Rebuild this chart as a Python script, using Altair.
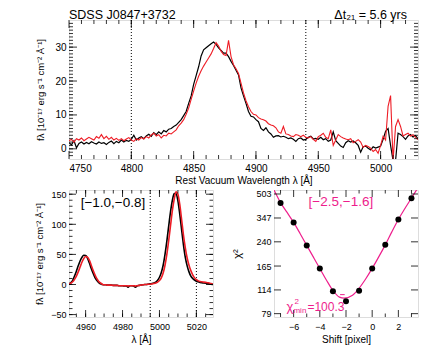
import altair as alt
import pandas as pd

# ---------------- data ----------------
wave_top = list(range(4750, 5031, 2))
flux_black_top = [
    1.8, 1.2, 2.4, 0.3, 1.6, 2.0, 1.4, 1.9, 1.5, 2.1,
    1.7, 1.4, 2.0, 1.6, 1.8, 1.3, 1.9, 2.3, 1.5, 2.2,
    1.8, 2.6, 2.0, 2.5, 2.2, 2.8, 4.0, 2.6, 3.2, 3.6,
    3.0, 3.8, 4.3, 3.7, 4.8, 4.2, 5.0, 4.4, 5.4, 5.0,
    5.8, 6.0, 6.6, 7.0, 7.8, 8.6, 9.8, 11.0, 13.4, 15.6,
    19.0, 21.6, 24.2, 27.4, 29.2, 29.8, 30.4, 31.0, 31.5, 30.8,
    29.8, 29.0, 28.2, 28.2, 27.2, 25.8, 24.6, 23.2, 21.8, 18.0,
    15.6, 13.4, 11.0, 9.6, 9.4, 8.6, 8.0, 6.0, 5.4, 6.2,
    5.0, 4.4, 3.4, 3.8, 3.9, 3.5, 3.7, 3.4, 3.0, 3.2,
    2.8, 2.2, 3.0, 3.2, 2.6, 2.8, 3.4, 3.7, 2.9, 3.1,
    2.8, 3.4, 2.7, 3.0, 2.2, 2.6, 5.0, 2.4, 1.6, 0.8,
    0.4, 1.8, 2.4, 2.0, 2.3, 1.8, 1.0, -1.0, 0.6, 0.8,
    0.2, -0.3, 0.6, 0.2, 0.5, 0.8, 2.8, 5.2, 6.0, 1.0,
    -3.5, -3.5, 4.6, 4.2, 3.6, 2.8, 3.8, 4.2, 3.5, 3.9,
    3.0,
]
flux_red_top = [
    2.4, 2.8, 2.0, 3.0, 2.6, 3.2, 2.4, 2.9, 3.4, 3.0,
    2.6, 3.6, 3.1, 4.2, 3.0, 3.7, 2.8, 3.4, 2.6, 3.1,
    2.5, 3.0, 2.4, 2.9, 3.3, 2.6, 2.2, 3.0, 2.6, 3.3,
    2.9, 3.6, 3.2, 4.1, 4.6, 3.8, 4.2, 3.2, 4.0, 3.8,
    4.6, 4.4, 5.0, 5.6, 6.8, 7.6, 8.6, 10.2, 12.0, 14.6,
    17.0, 19.4, 21.4, 23.0, 24.4, 25.6, 26.8, 28.0, 29.6, 31.3,
    30.3, 28.8, 27.8, 27.5, 32.0, 27.2, 24.8, 23.6, 22.2, 19.4,
    16.5, 14.2, 12.4, 11.0, 10.2, 10.0, 9.2, 8.8, 8.6, 8.2,
    7.4, 7.0, 6.8, 6.2, 5.0, 4.6, 6.6, 4.4, 4.2, 3.8,
    3.6, 4.2, 4.0, 3.6, 4.0, 3.4, 3.2, 3.6, 2.8, 2.2,
    3.6, 4.0, 4.6, 3.4, 3.0, 5.6, 1.0, 2.6, 4.2, 3.6,
    3.2, 2.9, 2.7, 3.0, 1.8, 2.2, 2.7, 2.0, 0.4, 1.0,
    0.7, 0.2, -0.8, -0.2, -1.3, 1.0, 3.7, 2.6, 12.5, 15.7,
    -3.5, 6.6, 8.6, 6.6, 3.8, 4.2, 4.6, 3.8, 4.2, 3.4,
    2.7,
]
top_vlines = [4800, 4940]

wave_oiii = list(range(4951, 5030))
flux_black_oiii = [
    1.0, 3.0, 7.0, 14.0, 22.0, 31.0, 39.0, 45.0, 48.5, 48.0,
    44.0, 36.0, 27.0, 19.0, 12.0, 7.0, 3.5, 1.0, 0.0, -0.5,
    -0.5, -1.0, -1.0, -1.0, -1.5, -1.5, -1.5, -2.0, -2.0, -2.0,
    -2.5, -2.0, -4.5, -2.0, -2.0, -2.5, -4.5, -2.0, -1.5, -1.0,
    -0.5, 0.0, 0.0, 0.5, 1.0, 1.5, 2.5, 4.0, 7.0, 12.0,
    20.0, 32.0, 50.0, 72.0, 97.0, 121.0, 140.0, 151.0, 151.0, 139.0,
    117.0, 91.0, 66.0, 45.0, 31.0, 21.0, 14.0, 10.0, 7.5, 5.5,
    4.5, 3.5, 3.0, 2.5, 2.0, 1.5, 1.0, 0.5, 0.0,
]
flux_red_oiii = [
    0.5, 2.0, 4.5, 8.5, 14.0, 21.0, 29.0, 37.0, 43.0, 46.5,
    45.5, 40.5, 32.5, 24.0, 16.5, 10.0, 5.5, 2.5, 0.5, -0.5,
    -0.5, -1.0, -1.0, -1.0, -1.5, -1.5, -1.5, -2.0, -2.0, -2.0,
    -2.0, -2.0, -2.5, -2.0, -2.0, -2.0, -2.5, -2.0, -1.5, -1.0,
    -0.5, 0.0, 0.0, 0.5, 0.5, 1.0, 1.5, 2.5, 4.0, 6.5,
    11.0, 19.0, 32.0, 50.0, 73.0, 98.0, 123.0, 142.0, 154.0, 150.0,
    133.0, 108.0, 82.0, 61.0, 44.0, 32.0, 23.0, 16.0, 11.0, 8.0,
    6.0, 5.0, 4.5, 4.0, 3.5, 3.0, 2.5, 1.5, 0.5,
]
oiii_vlines = [4995, 5020]

shift_pts = [-7, -6, -5, -4, -3, -2, -1, 0, 1, 2, 3]
chi2_pts = [438, 324, 227, 159, 111.5, 95.7, 112.7, 159, 229, 339, 471]
shift_curve = [-7.5, -7.0, -6.5, -6.0, -5.5, -5.0, -4.5, -4.0, -3.5, -3.0, -2.5,
               -2.15, -1.5, -1.0, -0.5, 0.0, 0.5, 1.0, 1.5, 2.0, 2.5, 3.0, 3.5]
chi2_curve = [535, 440, 378, 324, 272, 227, 190, 159, 133, 113, 102,
              100.3, 105, 117, 135, 159, 190, 229, 280, 339, 402, 472, 555]
chi2_ticks = [79, 114, 165, 240, 347, 503]
min_bar_x = [-2.45]
min_bar_x2 = [-2.1]
min_bar_y = [106]

# ---------------- style ----------------
RED = "#EE1C25"
MAG = "#EE1E8C"
FONT = "Liberation Sans"

TW, TH = 349, 139
BW, BH = 144, 127


def inward_ticks(xmaj, xmin, ymaj, ymin, X, Y, W, H, lmaj, lmin):
    layers = []
    for vals, ln in ((xmaj, lmaj), (xmin, lmin)):
        if not vals:
            continue
        d = pd.DataFrame({"x": vals})
        layers.append(alt.Chart(d).mark_rule(color="black", strokeWidth=0.8).encode(
            x=X, y=alt.value(H), y2=alt.value(H - ln)))
        layers.append(alt.Chart(d).mark_rule(color="black", strokeWidth=0.8).encode(
            x=X, y=alt.value(0), y2=alt.value(ln)))
    for vals, ln in ((ymaj, lmaj), (ymin, lmin)):
        if not vals:
            continue
        d = pd.DataFrame({"y": vals})
        layers.append(alt.Chart(d).mark_rule(color="black", strokeWidth=0.8).encode(
            y=Y, x=alt.value(0), x2=alt.value(ln)))
        layers.append(alt.Chart(d).mark_rule(color="black", strokeWidth=0.8).encode(
            y=Y, x=alt.value(W), x2=alt.value(W - ln)))
    return layers


axis_common = dict(ticks=False, domain=False, grid=False, labelFont=FONT,
                   titleFont=FONT, labelColor="black", titleColor="black",
                   titleFontWeight="normal", format="d")

# ---------------- top panel ----------------
Xt = alt.X("x:Q", scale=alt.Scale(domain=[4750, 5030], nice=False, zero=False),
           axis=alt.Axis(values=[4750, 4800, 4850, 4900, 4950, 5000],
                         title="Rest Vacuum Wavelength λ [Å]", labelFontSize=10,
                         titleFontSize=10, labelPadding=4, titlePadding=2, **axis_common))
Yt = alt.Y("y:Q", scale=alt.Scale(domain=[-3, 38], nice=False, zero=False),
           axis=alt.Axis(values=[0, 10, 20, 30], title="fλ [10⁻¹⁷ erg s⁻¹ cm⁻² Å⁻¹]",
                         labelFontSize=10, titleFontSize=9.5, labelPadding=3,
                         titlePadding=9, **axis_common))

df_tb = pd.DataFrame({"x": wave_top, "y": flux_black_top})
df_tr = pd.DataFrame({"x": wave_top, "y": flux_red_top})
df_tv = pd.DataFrame({"x": top_vlines})

top_layers = [
    alt.Chart(df_tv).mark_rule(color="black", strokeDash=[1, 2], strokeWidth=1).encode(x=Xt),
    alt.Chart(df_tb).mark_line(color="black", strokeWidth=1.2, clip=True).encode(x=Xt, y=Yt),
    alt.Chart(df_tr).mark_line(color=RED, strokeWidth=1.1, clip=True).encode(x=Xt, y=Yt),
]
top_layers += inward_ticks([4750, 4800, 4850, 4900, 4950, 5000],
                           list(range(4760, 5030, 10)),
                           [0, 10, 20, 30], list(range(-2, 38, 1)),
                           Xt, Yt, TW, TH, 8, 4)
hdr = pd.DataFrame({"a": [1]})
top_layers.append(alt.Chart(hdr).mark_text(text="SDSS J0847+3732", font=FONT, fontSize=12.5,
                                           align="left", baseline="alphabetic").encode(
    x=alt.value(0), y=alt.value(-1.5)))
top_layers.append(alt.Chart(hdr).mark_text(text="Δt₂₁ = 5.6 yrs", font=FONT, fontSize=12.5,
                                           align="right", baseline="alphabetic").encode(
    x=alt.value(338), y=alt.value(-1.5)))
top = alt.layer(*top_layers).properties(width=TW, height=TH)

# ---------------- bottom-left panel ----------------
Xl = alt.X("x:Q", scale=alt.Scale(domain=[4951, 5029], nice=False, zero=False),
           axis=alt.Axis(values=[4960, 4980, 5000, 5020], title="λ [Å]",
                         labelFontSize=9, titleFontSize=10, labelPadding=5,
                         titlePadding=3, **axis_common))
Yl = alt.Y("y:Q", scale=alt.Scale(domain=[-54, 157], nice=False, zero=False),
           axis=alt.Axis(values=[-50, 0, 50, 100, 150], title="fλ [10⁻¹⁷ erg s⁻¹ cm⁻² Å⁻¹]",
                         labelFontSize=9, titleFontSize=9.5, labelPadding=3,
                         titlePadding=6, **axis_common))
df_lb = pd.DataFrame({"x": wave_oiii, "y": flux_black_oiii})
df_lr = pd.DataFrame({"x": wave_oiii, "y": flux_red_oiii})
df_lv = pd.DataFrame({"x": oiii_vlines})
bl_layers = [
    alt.Chart(df_lv).mark_rule(color="black", strokeDash=[1, 2], strokeWidth=1).encode(x=Xl),
    alt.Chart(df_lb).mark_line(color="black", strokeWidth=1.6, clip=True,
                               interpolate="monotone").encode(x=Xl, y=Yl),
    alt.Chart(df_lr).mark_line(color=RED, strokeWidth=1.6, clip=True,
                               interpolate="monotone").encode(x=Xl, y=Yl),
]
bl_layers += inward_ticks([4960, 4980, 5000, 5020], list(range(4955, 5030, 5)),
                          [-50, 0, 50, 100, 150], list(range(-50, 157, 10)),
                          Xl, Yl, BW, BH, 7, 3.5)
bl_layers.append(alt.Chart(pd.DataFrame({"x": [4974.8], "y": [136]})).mark_text(
    text="[−1.0,−0.8]", font=FONT, fontSize=13.5).encode(x=Xl, y=Yl))
bl = alt.layer(*bl_layers).properties(width=BW, height=BH)

# ---------------- bottom-right panel ----------------
Xr = alt.X("x:Q", scale=alt.Scale(domain=[-7.5, 3.5], nice=False, zero=False),
           axis=alt.Axis(values=[-6, -4, -2, 0, 2], title="Shift [pixel]",
                         labelFontSize=9, titleFontSize=10, labelPadding=5,
                         titlePadding=3, **axis_common))
Yr = alt.Y("y:Q", scale=alt.Scale(type="log", domain=[75, 535], nice=False),
           axis=alt.Axis(values=chi2_ticks, title="χ²", labelFontSize=9,
                         titleFontSize=11, labelPadding=3, titlePadding=13,
                         **axis_common))
df_rc = pd.DataFrame({"x": shift_curve, "y": chi2_curve})
df_rp = pd.DataFrame({"x": shift_pts, "y": chi2_pts})
df_bar = pd.DataFrame({"x": min_bar_x, "x2": min_bar_x2, "y": min_bar_y})
br_layers = [
    alt.Chart(df_rc).mark_line(color=MAG, strokeWidth=1.2, clip=True,
                               interpolate="monotone").encode(x=Xr, y=Yr),
    alt.Chart(df_rp).mark_circle(color="black", opacity=1, size=36).encode(x=Xr, y=Yr),
    alt.Chart(df_bar).mark_rule(color=MAG, strokeWidth=1).encode(x=Xr, x2="x2:Q", y=Yr),
]
br_layers += inward_ticks([-6, -4, -2, 0, 2], [-7, -5, -3, -1, 1, 3],
                          chi2_ticks, [],
                          Xr, Yr, BW, BH, 7, 3.5)
br_layers.append(alt.Chart(pd.DataFrame({"x": [-2.39], "y": [444]})).mark_text(
    text="[−2.5,−1.6]", font=FONT, fontSize=13.5, color=MAG).encode(x=Xr, y=Yr))
lab = pd.DataFrame({"x": [-6.55], "y": [82]})
br_layers.append(alt.Chart(lab).mark_text(text="χ", font=FONT, fontSize=13, color=MAG,
                                          align="left", baseline="alphabetic").encode(x=Xr, y=Yr))
br_layers.append(alt.Chart(lab).mark_text(text="2", font=FONT, fontSize=8, color=MAG,
                                          align="left", baseline="alphabetic",
                                          dx=8, dy=-7).encode(x=Xr, y=Yr))
br_layers.append(alt.Chart(lab).mark_text(text="min", font=FONT, fontSize=8, color=MAG,
                                          align="left", baseline="alphabetic",
                                          dx=7, dy=2).encode(x=Xr, y=Yr))
br_layers.append(alt.Chart(lab).mark_text(text="=100.3", font=FONT, fontSize=12, color=MAG,
                                          align="left", baseline="alphabetic",
                                          dx=21).encode(x=Xr, y=Yr))
br = alt.layer(*br_layers).properties(width=BW, height=BH)

bottom = alt.hconcat(bl, br, spacing=61, bounds="flush")
chart = alt.vconcat(top, bottom, spacing=31, bounds="flush").properties(
    padding={"left": 26, "top": 0, "right": 0, "bottom": 0}
).configure_view(stroke="black", strokeWidth=1).configure(background="white")

chart.save("out.html", embed_options={"renderer": "svg", "actions": False})
